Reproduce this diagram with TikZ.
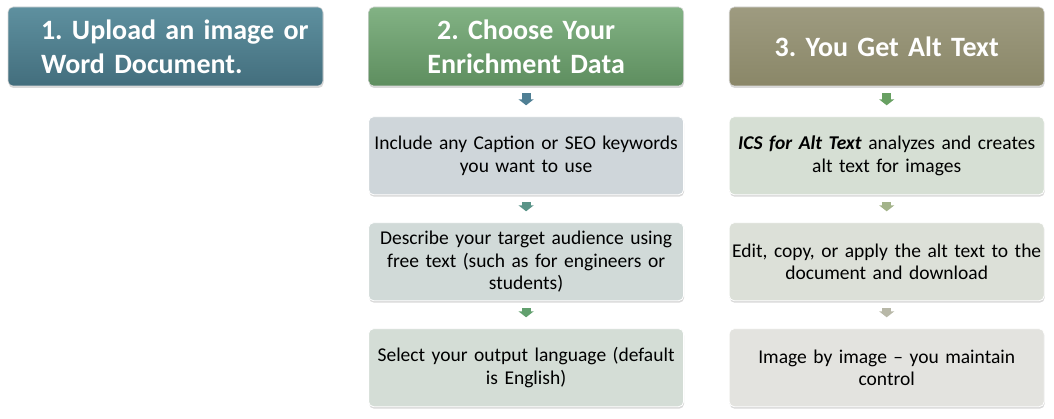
\documentclass[tikz,border=0pt]{standalone}
\usepackage{fontspec}
\setmainfont{Carlito}
\usetikzlibrary{shapes,arrows,arrows.meta,positioning,shadows}
\frenchspacing

\definecolor{uploadtop}{HTML}{5E909F}
\definecolor{uploadbot}{HTML}{436E7D}
\definecolor{choosetop}{HTML}{82B284}
\definecolor{choosebot}{HTML}{5E8E5F}
\definecolor{alttop}{HTML}{9E9B80}
\definecolor{altbot}{HTML}{8A8768}
\definecolor{chooseA}{HTML}{CFD6DA}
\definecolor{chooseB}{HTML}{D1DAD8}
\definecolor{chooseC}{HTML}{D4DDD6}
\definecolor{altA}{HTML}{D6DFD4}
\definecolor{altB}{HTML}{DCE0D8}
\definecolor{altC}{HTML}{E3E3DF}
\definecolor{arrA}{HTML}{4F7F94}
\definecolor{arrB}{HTML}{5A9488}
\definecolor{arrC}{HTML}{62A06E}
\definecolor{arrD}{HTML}{68A062}
\definecolor{arrE}{HTML}{A3B38A}
\definecolor{arrF}{HTML}{B8B8A8}

\begin{document}
\begin{tikzpicture}[x=1pt, y=1pt, node distance = 28pt]
  \tikzstyle{header} = [rectangle, rounded corners=5pt, minimum width=315pt, minimum height=79pt, inner xsep=2pt, text width=311pt, align=center, font=\fontsize{28}{34}\selectfont\bfseries, text=white, draw=white!70!gray, line width=0.6pt, drop shadow={shadow xshift=0.5pt, shadow yshift=-2pt, opacity=0.3}]
  \tikzstyle{stepbox} = [rectangle, rounded corners=5pt, minimum width=315pt, minimum height=78pt, inner xsep=1pt, text width=313pt, align=center, font=\fontsize{19.5}{22.5}\selectfont, draw=white, line width=0.8pt, drop shadow={shadow xshift=0.5pt, shadow yshift=-2pt, opacity=0.3}]
  \tikzstyle{blockarrow} = [line width=9pt, -{Triangle[width=15pt,length=6pt]}, shorten <=7pt, shorten >=11pt]
  \useasboundingbox (0,0) rectangle (1054,-419);
  % headers
  \node (upload) [header, top color=uploadtop, bottom color=uploadbot, inner xsep=33pt, text width=249pt, align=left] at (165.5,-46.5) {\mbox{1. Upload an image or}\\\mbox{Word Document.}};
  \node (choose) [header, top color=choosetop, bottom color=choosebot, right=45pt of upload] {2. Choose Your\\Enrichment Data};
  \node (getalt) [header, top color=alttop, bottom color=altbot, right=45pt of choose] {3. You Get Alt Text};
  % column 2
  \node (caption) [stepbox, fill=chooseA, below=30pt of choose] {Include any Caption or SEO keywords\\you want to use};
  \node (audience) [stepbox, fill=chooseB, below of=caption, yshift=-78pt] {Describe your target audience using\\free text (such as for engineers or\\students)};
  \node (language) [stepbox, fill=chooseC, below of=audience, yshift=-78pt] {Select your output language (default\\is English)};
  % column 3
  \node (analyze) [stepbox, fill=altA, below=30pt of getalt] {\textbf{\textit{ICS for Alt Text}} analyzes and creates\\alt text for images};
  \node (edit) [stepbox, fill=altB, below of=analyze, yshift=-78pt] {Edit, copy, or apply the alt text to the\\document and download};
  \node (control) [stepbox, fill=altC, below of=edit, yshift=-78pt] {Image by image -- you maintain\\control};
  % arrows
  \draw [blockarrow, arrA] (choose) -- (caption);
  \draw [blockarrow, arrB] (caption) -- (audience);
  \draw [blockarrow, arrC] (audience) -- (language);
  \draw [blockarrow, arrD] (getalt) -- (analyze);
  \draw [blockarrow, arrE] (analyze) -- (edit);
  \draw [blockarrow, arrF] (edit) -- (control);
\end{tikzpicture}
\end{document}
